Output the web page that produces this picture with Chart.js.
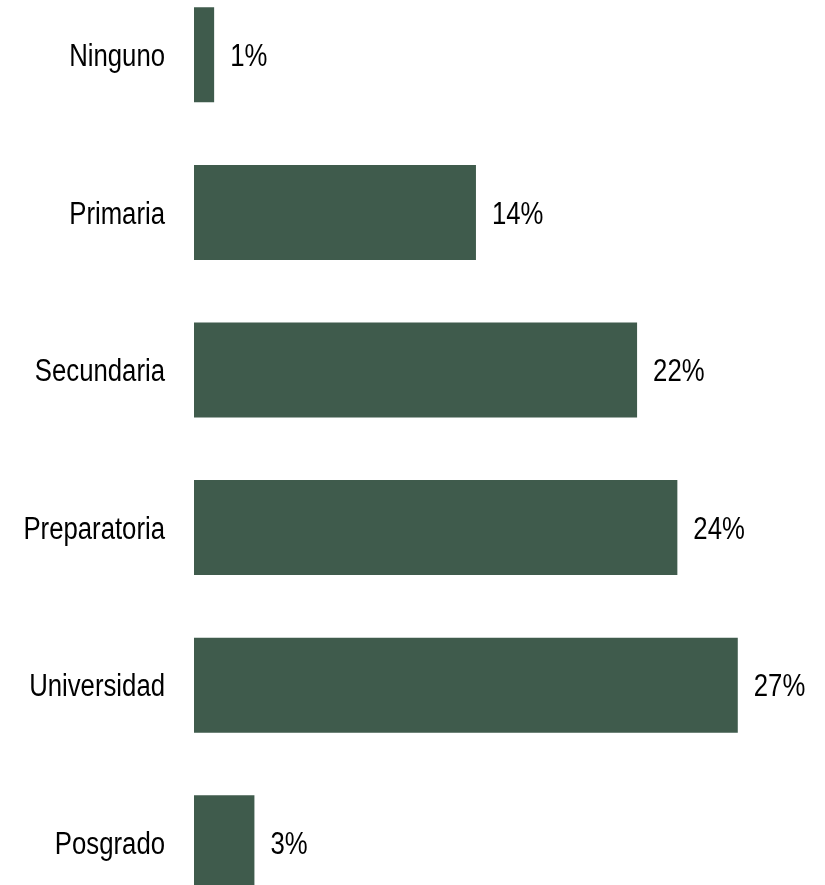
<!DOCTYPE html>
<html>
<head>
<meta charset="utf-8">
<script src="https://cdn.jsdelivr.net/npm/chart.js@4/dist/chart.umd.min.js"></script>
<style>
  html, body { margin: 0; padding: 0; background: #ffffff; overflow: hidden; }
  #wrap { position: absolute; left: 0; top: -24.5px; width: 825px; height: 945.6px; }
</style>
</head>
<body>
<div id="wrap"><canvas id="c"></canvas></div>
<script>
const categories = ["Ninguno", "Primaria", "Secundaria", "Preparatoria", "Universidad", "Posgrado"];
const values = [1, 14, 22, 24, 27, 3];
const valueSuffix = "%";

const FONT = '"Liberation Sans", Arial, sans-serif';
const FONT_SIZE = 31;
const NARROW = 0.83; // horizontal squeeze to imitate Arial Narrow

function narrowText(ctx, text, x, y, align) {
  ctx.save();
  ctx.translate(x, y);
  ctx.scale(NARROW, 1);
  ctx.textAlign = align;
  ctx.fillText(text, 0, 0);
  ctx.restore();
}

const textLabels = {
  id: 'textLabels',
  afterDatasetsDraw(chart) {
    const ctx = chart.ctx;
    const meta = chart.getDatasetMeta(0);
    const yScale = chart.scales.y;
    const capHalf = FONT_SIZE * 0.729 / 2;
    ctx.save();
    ctx.font = FONT_SIZE + 'px ' + FONT;
    ctx.fillStyle = '#000000';
    ctx.textBaseline = 'alphabetic';
    chart.data.labels.forEach((lab, i) => {
      narrowText(ctx, lab, yScale.right - 29, yScale.getPixelForTick(i) + capHalf, 'right');
    });
    meta.data.forEach((bar, i) => {
      narrowText(ctx, chart.data.datasets[0].data[i] + valueSuffix, bar.x + 16, bar.y + capHalf, 'left');
    });
    ctx.restore();
  }
};

new Chart(document.getElementById('c'), {
  type: 'bar',
  data: {
    labels: categories,
    datasets: [{
      data: values,
      backgroundColor: '#3f5b4c',
      borderWidth: 0,
      categoryPercentage: 1,
      barPercentage: 0.603
    }]
  },
  options: {
    indexAxis: 'y',
    responsive: true,
    maintainAspectRatio: false,
    animation: false,
    layout: { padding: { left: 0, right: 26.8, top: 0, bottom: 0 } },
    plugins: { legend: { display: false }, tooltip: { enabled: false } },
    scales: {
      x: {
        display: false,
        min: 0,
        max: 30
      },
      y: {
        grid: { display: false, drawTicks: false },
        border: { display: false },
        ticks: { display: false, padding: 0 },
        afterFit(scale) {
          scale.width = 194;
          scale.paddingTop = 0;
          scale.paddingBottom = 0;
        }
      }
    }
  },
  plugins: [textLabels]
});
</script>
</body>
</html>
